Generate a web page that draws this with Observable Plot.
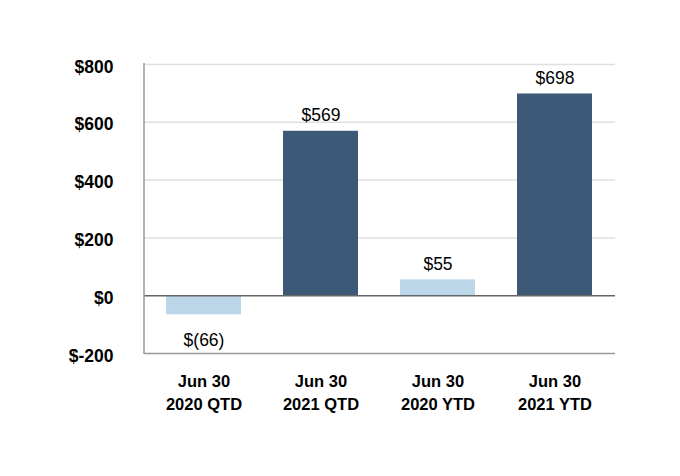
<!DOCTYPE html>
<html>
<head>
<meta charset="utf-8">
<script src="https://cdn.jsdelivr.net/npm/d3@7"></script>
<script src="https://cdn.jsdelivr.net/npm/@observablehq/plot@0.6"></script>
<style>
  html, body { margin: 0; padding: 0; background: #fff; }
  #chart svg { display: block; }
</style>
</head>
<body>
<div id="chart"></div>
<script>
const categories = ["Jun 30\n2020 QTD", "Jun 30\n2021 QTD", "Jun 30\n2020 YTD", "Jun 30\n2021 YTD"];
const values = [-66, 569, 55, 698];
const labels = ["$(66)", "$569", "$55", "$698"];
const colors = ["#bdd7ea", "#3c5a78", "#bdd7ea", "#3c5a78"];
const yTicks = [-200, 0, 200, 400, 600, 800];

const data = categories.map((c, i) => ({cat: c, value: values[i], label: labels[i], color: colors[i]}));

const chart = Plot.plot({
  width: 680,
  height: 476,
  marginLeft: 144,
  marginRight: 65,
  marginTop: 64,
  marginBottom: 123,
  style: {fontFamily: "Liberation Sans, Arial, sans-serif", fontSize: "17px", color: "#000", background: "#fff"},
  x: {domain: categories, paddingInner: 0.355, paddingOuter: 0.1775, label: null},
  y: {domain: [-200, 800], label: null},
  marks: [
    Plot.ruleY(yTicks.filter(d => d !== 0 && d !== -200), {stroke: "#e0e0e0", strokeWidth: 1.5}),
    Plot.barY(data, {x: "cat", y: "value", fill: "color"}),
    Plot.ruleY([0], {stroke: "#666", strokeWidth: 1.5}),
    Plot.ruleY([-200], {stroke: "#999", strokeWidth: 1.5}),
    Plot.axisY({ticks: yTicks, tickFormat: d => "$" + d, tickSize: 0, tickPadding: 31, dy: 2.5, fontWeight: "bold", fontSize: 17.5, label: null}),
    Plot.axisX({tickSize: 0, tickPadding: 17, fontWeight: "bold", fontSize: 16.5, lineHeight: 1.4, label: null}),
    Plot.text(data.filter(d => d.value >= 0), {x: "cat", y: "value", text: "label", lineAnchor: "bottom", dy: -10, fontSize: 17.5}),
    Plot.text(data.filter(d => d.value < 0), {x: "cat", y: "value", text: "label", lineAnchor: "top", dy: 19, fontSize: 17.5})
  ]
});

// left axis line
const svg = d3.select(chart);
svg.append("line")
  .attr("x1", 144).attr("x2", 144)
  .attr("y1", 63).attr("y2", 354)
  .attr("stroke", "#999").attr("stroke-width", 1.5);

document.getElementById("chart").appendChild(chart);
</script>
</body>
</html>
